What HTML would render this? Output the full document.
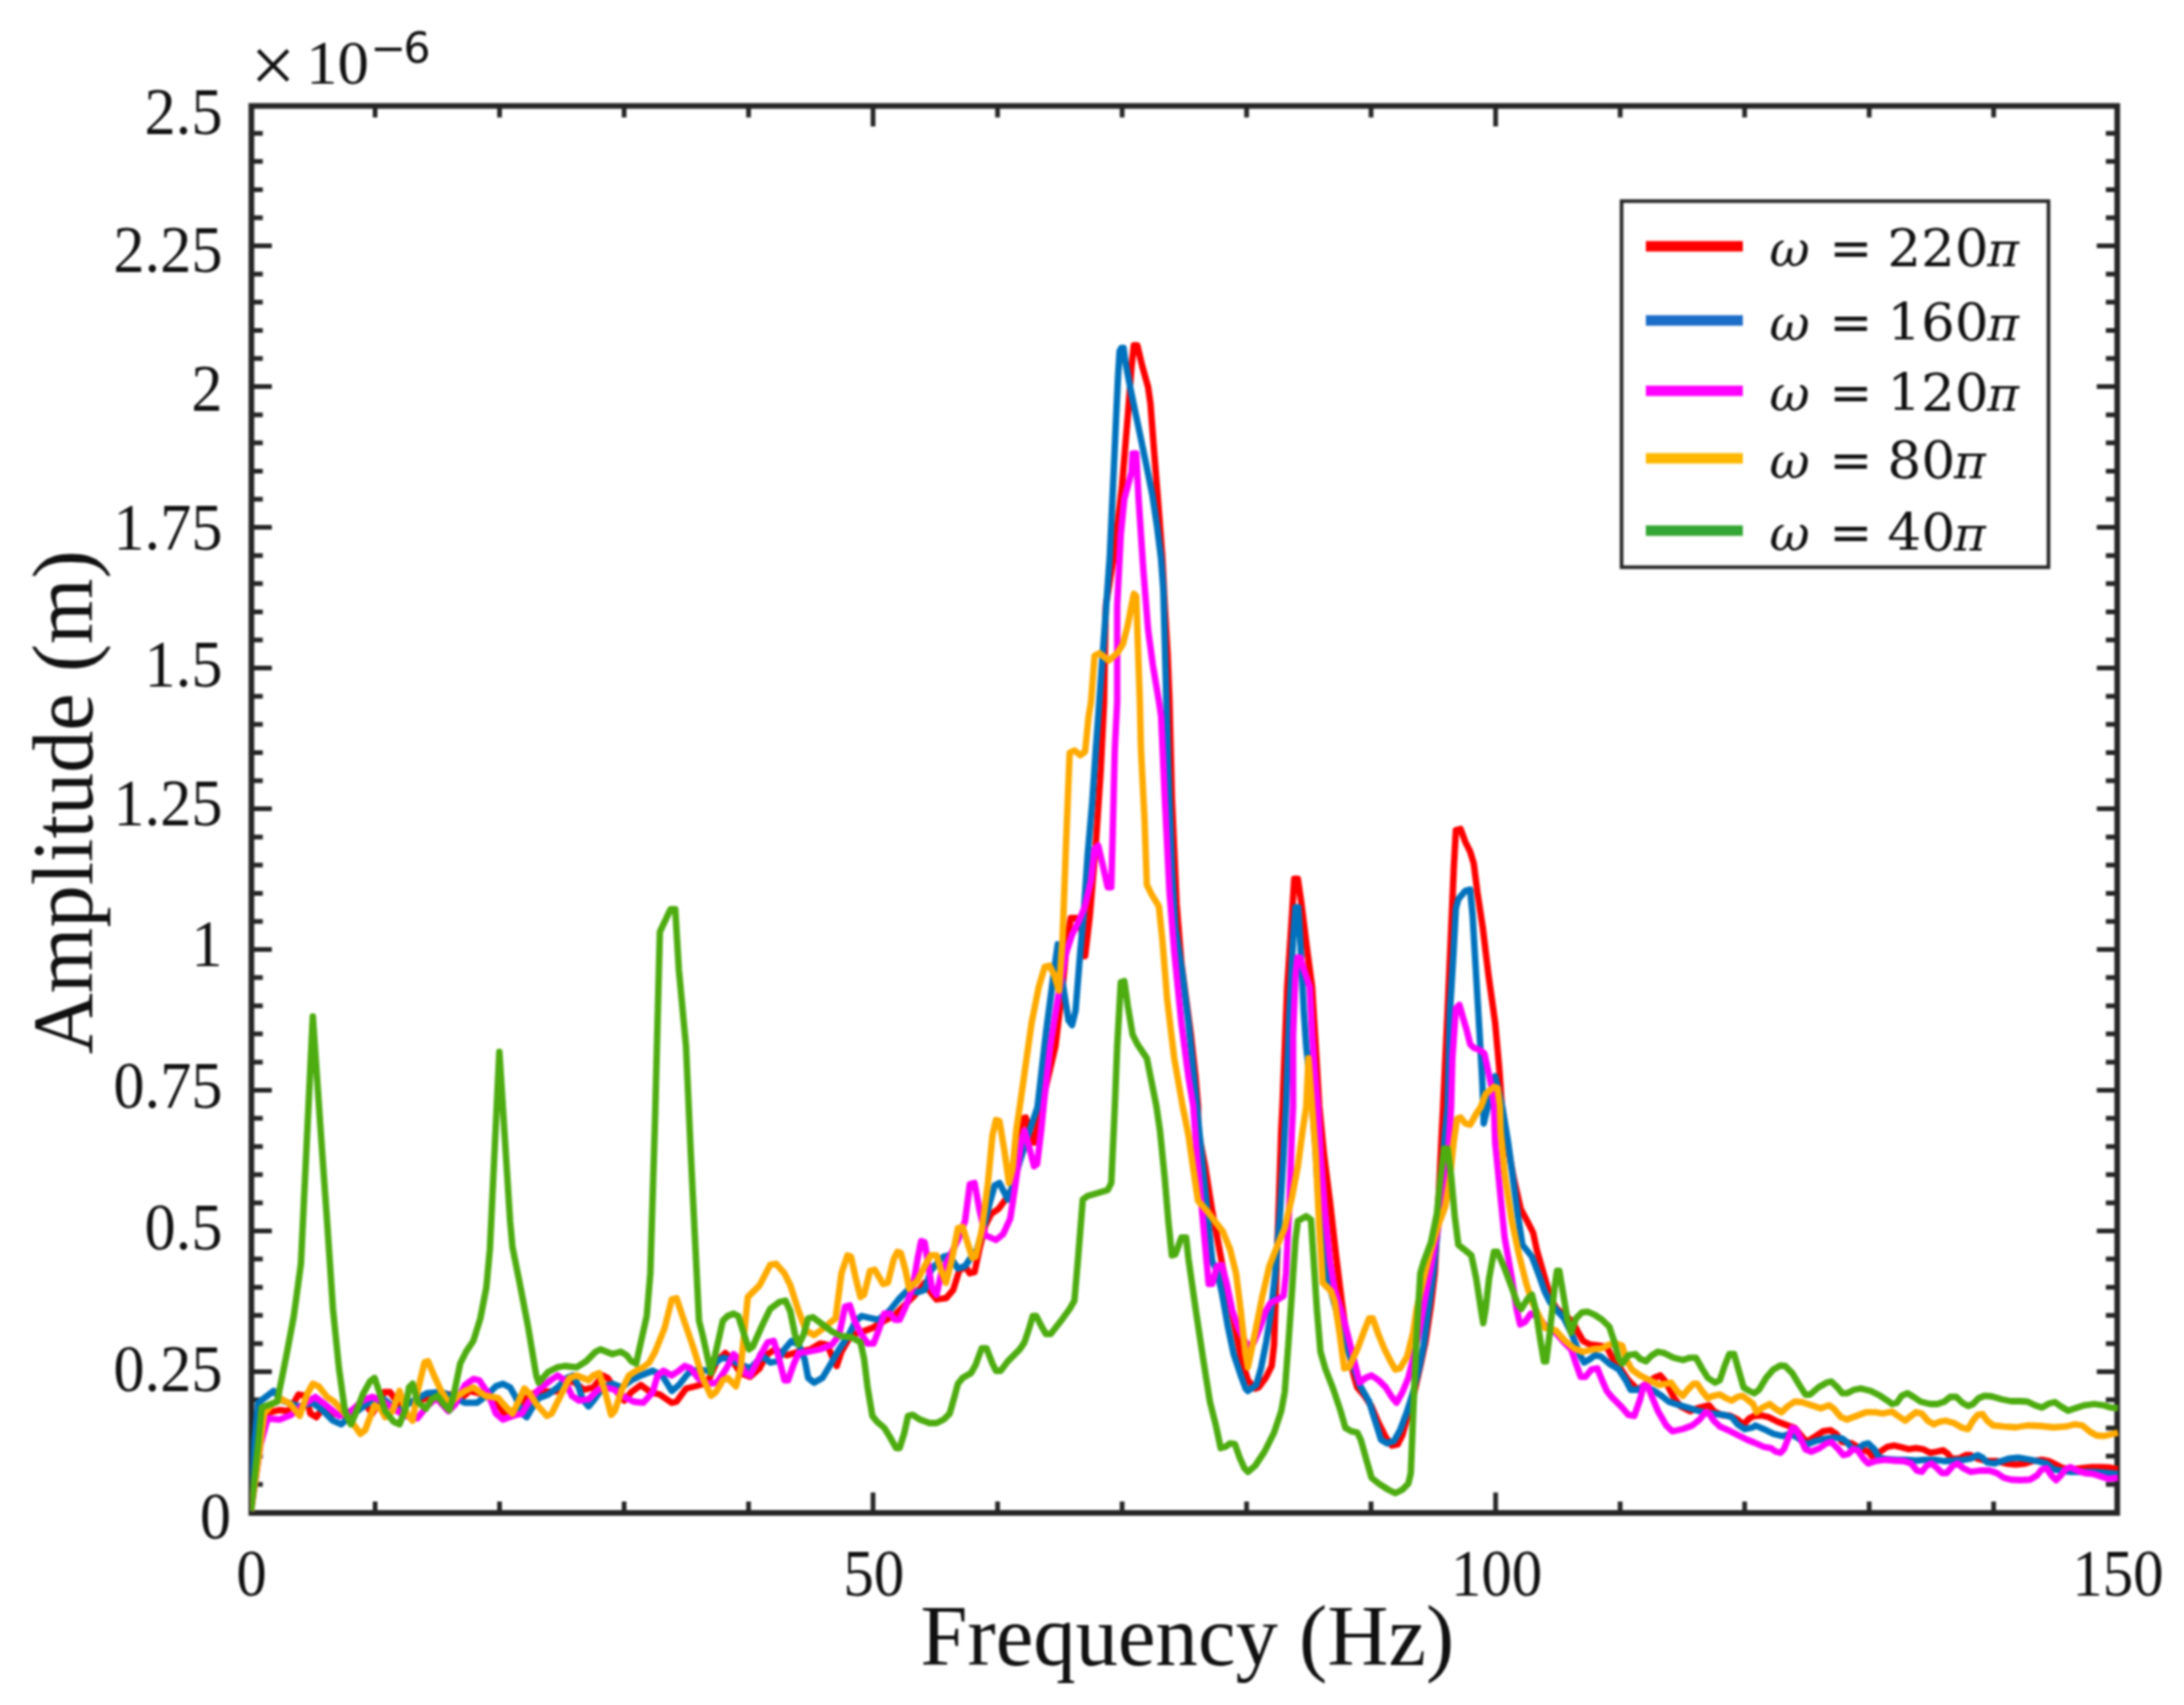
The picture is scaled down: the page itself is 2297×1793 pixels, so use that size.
<!DOCTYPE html>
<html lang="en"><head><meta charset="utf-8"><title>Amplitude vs Frequency</title>
<style>html,body{margin:0;padding:0;background:#fff}svg{display:block}</style></head>
<body>
<svg width="2297" height="1793" viewBox="0 0 2297 1793">
<defs><clipPath id="clip"><rect x="263.4" y="111.4" width="1966.4" height="1482.6"/></clipPath></defs>
<filter id="soft" x="0" y="0" width="100%" height="100%" filterUnits="userSpaceOnUse" color-interpolation-filters="sRGB"><feGaussianBlur stdDeviation="1"/></filter>
<rect width="2297" height="1793" fill="#fff"/>
<g filter="url(#soft)">
<rect width="2297" height="1793" fill="#fff"/>
<g stroke="#262626" stroke-width="6" fill="none" stroke-linecap="butt">
<rect x="264.4" y="111.4" width="1962.4" height="1479.6"/>
<path stroke-width="5" d="M264.4 1560.9h12M2226.8 1560.9h-12M264.4 1531.3h12M2226.8 1531.3h-12M264.4 1501.7h12M2226.8 1501.7h-12M264.4 1472.1h12M2226.8 1472.1h-12M264.4 1442.5h21.5M2226.8 1442.5h-21.5M264.4 1412.9h12M2226.8 1412.9h-12M264.4 1383.3h12M2226.8 1383.3h-12M264.4 1353.7h12M2226.8 1353.7h-12M264.4 1324.1h12M2226.8 1324.1h-12M264.4 1294.5h21.5M2226.8 1294.5h-21.5M264.4 1264.9h12M2226.8 1264.9h-12M264.4 1235.3h12M2226.8 1235.3h-12M264.4 1205.7h12M2226.8 1205.7h-12M264.4 1176.1h12M2226.8 1176.1h-12M264.4 1146.5h21.5M2226.8 1146.5h-21.5M264.4 1116.9h12M2226.8 1116.9h-12M264.4 1087.3h12M2226.8 1087.3h-12M264.4 1057.7h12M2226.8 1057.7h-12M264.4 1028.1h12M2226.8 1028.1h-12M264.4 998.5h21.5M2226.8 998.5h-21.5M264.4 969.0h12M2226.8 969.0h-12M264.4 939.4h12M2226.8 939.4h-12M264.4 909.8h12M2226.8 909.8h-12M264.4 880.2h12M2226.8 880.2h-12M264.4 850.6h21.5M2226.8 850.6h-21.5M264.4 821.0h12M2226.8 821.0h-12M264.4 791.4h12M2226.8 791.4h-12M264.4 761.8h12M2226.8 761.8h-12M264.4 732.2h12M2226.8 732.2h-12M264.4 702.6h21.5M2226.8 702.6h-21.5M264.4 673.0h12M2226.8 673.0h-12M264.4 643.4h12M2226.8 643.4h-12M264.4 613.8h12M2226.8 613.8h-12M264.4 584.2h12M2226.8 584.2h-12M264.4 554.6h21.5M2226.8 554.6h-21.5M264.4 525.0h12M2226.8 525.0h-12M264.4 495.4h12M2226.8 495.4h-12M264.4 465.8h12M2226.8 465.8h-12M264.4 436.2h12M2226.8 436.2h-12M264.4 406.6h21.5M2226.8 406.6h-21.5M264.4 377.0h12M2226.8 377.0h-12M264.4 347.4h12M2226.8 347.4h-12M264.4 317.8h12M2226.8 317.8h-12M264.4 288.2h12M2226.8 288.2h-12M264.4 258.6h21.5M2226.8 258.6h-21.5M264.4 229.0h12M2226.8 229.0h-12M264.4 199.4h12M2226.8 199.4h-12M264.4 169.8h12M2226.8 169.8h-12M264.4 140.2h12M2226.8 140.2h-12M394.5 1591.0v-12M394.5 111.4v12M525.4 1591.0v-12M525.4 111.4v12M656.4 1591.0v-12M656.4 111.4v12M787.3 1591.0v-12M787.3 111.4v12M918.2 1591.0v-21.5M918.2 111.4v21.5M1049.2 1591.0v-12M1049.2 111.4v12M1180.2 1591.0v-12M1180.2 111.4v12M1311.1 1591.0v-12M1311.1 111.4v12M1442.0 1591.0v-12M1442.0 111.4v12M1573.0 1591.0v-21.5M1573.0 111.4v21.5M1704.0 1591.0v-12M1704.0 111.4v12M1834.9 1591.0v-12M1834.9 111.4v12M1965.9 1591.0v-12M1965.9 111.4v12M2096.8 1591.0v-12M2096.8 111.4v12"/>
</g>
<g fill="none" stroke-width="6.8" stroke-linejoin="round" stroke-linecap="butt" clip-path="url(#clip)">
<path d="M264.0 1589.0 L270.2 1519.0 L279.0 1486.5 L294.0 1482.8 L304.0 1484.0 L314.0 1466.5 L321.5 1467.8 L326.5 1486.5 L332.8 1490.2 L339.0 1481.5 L349.0 1486.5 L364.0 1489.0 L374.0 1484.0 L384.0 1476.5 L391.5 1486.5 L404.0 1464.0 L410.2 1464.0 L419.0 1476.5 L439.0 1474.0 L454.0 1467.8 L464.0 1465.2 L474.0 1466.5 L484.0 1471.5 L494.0 1462.8 L509.0 1466.5 L524.0 1476.5 L531.5 1489.0 L539.0 1489.0 L551.5 1471.5 L564.0 1464.0 L589.0 1462.8 L601.5 1451.5 L614.0 1461.5 L624.0 1459.0 L634.0 1446.5 L639.0 1449.0 L649.0 1464.0 L656.5 1472.8 L664.0 1464.0 L674.0 1456.5 L684.0 1464.0 L694.0 1466.5 L706.5 1475.2 L711.5 1474.0 L721.5 1460.2 L731.5 1457.8 L744.0 1454.0 L754.0 1431.5 L762.8 1422.8 L769.0 1429.0 L779.0 1444.0 L789.0 1447.8 L799.0 1439.0 L800.0 1436.5 L807.5 1424.0 L815.0 1419.0 L827.5 1425.2 L840.0 1421.5 L852.5 1419.0 L862.5 1412.8 L870.0 1414.0 L876.2 1429.0 L880.0 1436.5 L885.0 1421.5 L895.0 1404.0 L907.5 1400.2 L917.5 1396.5 L930.0 1389.0 L940.0 1384.0 L950.0 1374.0 L962.5 1361.5 L972.5 1349.0 L978.8 1359.0 L985.0 1366.5 L995.0 1365.2 L1002.5 1356.5 L1008.8 1336.5 L1015.0 1331.5 L1020.0 1339.0 L1025.0 1337.8 L1030.0 1314.0 L1036.2 1289.0 L1042.5 1276.5 L1050.0 1271.5 L1057.5 1261.5 L1065.0 1249.0 L1070.0 1214.0 L1075.0 1176.5 L1078.8 1175.2 L1083.8 1194.0 L1087.5 1201.5 L1095.0 1164.0 L1110.0 1100.5 L1117.5 1038.0 L1122.5 988.0 L1126.2 965.5 L1132.5 965.5 L1137.5 978.0 L1141.2 1005.5 L1146.2 963.0 L1152.5 888.0 L1157.5 813.0 L1161.2 738.0 L1162.0 687.0 L1163.0 637.0 L1171.2 587.0 L1180.0 512.0 L1186.2 437.0 L1190.0 387.0 L1192.5 363.2 L1196.2 363.2 L1201.2 384.5 L1207.5 407.0 L1210.0 424.5 L1213.8 474.5 L1218.8 537.0 L1222.5 587.0 L1225.0 637.0 L1228.0 687.0 L1230.0 737.0 L1232.5 838.0 L1237.5 950.5 L1242.5 1013.0 L1247.5 1050.5 L1252.5 1088.0 L1257.5 1133.0 L1260.0 1163.0 L1260.0 1189.0 L1267.5 1226.5 L1275.0 1274.0 L1282.5 1314.0 L1290.0 1354.0 L1297.5 1389.0 L1305.0 1426.5 L1312.5 1451.5 L1320.0 1460.2 L1323.8 1459.0 L1331.2 1449.0 L1337.5 1436.5 L1340.0 1414.0 L1342.5 1339.0 L1345.0 1264.0 L1347.5 1189.0 L1348.8 1164.0 L1353.8 1038.0 L1358.8 963.0 L1361.2 924.2 L1365.0 924.2 L1368.8 950.5 L1375.0 1000.5 L1380.0 1038.0 L1383.8 1100.5 L1387.5 1163.0 L1392.5 1214.0 L1398.8 1264.0 L1405.0 1319.0 L1411.2 1369.0 L1417.5 1414.0 L1423.8 1446.5 L1427.5 1459.0 L1435.0 1467.8 L1442.5 1479.0 L1450.0 1496.5 L1457.5 1511.5 L1463.8 1520.2 L1470.0 1519.0 L1475.0 1509.0 L1481.2 1486.5 L1487.5 1464.0 L1493.8 1436.5 L1499.2 1411.5 L1504.8 1374.0 L1509.0 1339.0 L1512.8 1264.0 L1516.5 1189.0 L1517.8 1164.0 L1522.5 1063.0 L1525.8 988.0 L1529.0 913.0 L1531.2 873.0 L1536.2 871.8 L1541.2 885.5 L1546.2 895.5 L1550.0 908.0 L1553.8 938.0 L1559.5 975.5 L1565.5 1025.5 L1572.5 1075.5 L1577.0 1125.5 L1579.5 1163.0 L1583.8 1194.0 L1592.0 1239.0 L1599.5 1271.5 L1606.2 1284.0 L1612.5 1296.5 L1616.2 1314.0 L1621.2 1331.5 L1626.2 1349.0 L1631.2 1366.5 L1637.5 1376.5 L1650.0 1386.5 L1656.2 1394.0 L1660.0 1401.5 L1665.0 1410.2 L1672.5 1414.0 L1682.5 1415.2 L1690.0 1416.5 L1696.2 1429.0 L1702.5 1436.5 L1712.5 1451.5 L1722.5 1461.5 L1731.2 1455.2 L1740.0 1449.0 L1746.2 1446.5 L1752.5 1454.0 L1760.0 1469.0 L1767.5 1479.0 L1777.5 1484.0 L1787.5 1480.2 L1797.5 1477.8 L1802.5 1484.0 L1810.0 1487.8 L1820.0 1489.0 L1827.5 1492.8 L1833.8 1497.8 L1840.0 1491.5 L1845.0 1489.0 L1852.5 1488.5 L1860.0 1490.2 L1870.0 1495.2 L1880.0 1499.0 L1887.5 1501.5 L1900.0 1516.5 L1910.0 1510.2 L1917.5 1505.2 L1925.0 1504.0 L1931.2 1507.8 L1937.5 1516.5 L1947.5 1517.8 L1957.5 1524.0 L1965.0 1526.5 L1970.0 1532.8 L1977.5 1526.5 L1985.0 1521.5 L1992.5 1520.2 L2000.0 1522.0 L2007.5 1524.0 L2015.0 1522.8 L2022.5 1524.0 L2030.0 1527.8 L2037.5 1526.5 L2043.8 1525.2 L2048.8 1529.0 L2052.5 1534.0 L2060.0 1534.0 L2067.5 1530.2 L2072.5 1530.2 L2080.0 1534.0 L2090.0 1536.5 L2100.0 1536.5 L2110.0 1539.0 L2120.0 1540.2 L2130.0 1539.0 L2137.5 1536.5 L2147.5 1535.2 L2155.0 1536.5 L2162.5 1540.2 L2170.0 1544.0 L2180.0 1545.2 L2190.0 1544.0 L2200.0 1542.8 L2210.0 1542.8 L2220.0 1543.5 L2227.5 1545.2" stroke="#ff0000"/>
<path d="M264.0 1589.0 L267.8 1514.0 L271.5 1475.2 L287.8 1462.8 L296.5 1472.8 L314.0 1479.0 L329.0 1475.2 L339.0 1482.8 L350.2 1494.0 L359.0 1497.8 L369.0 1489.0 L389.0 1474.0 L404.0 1471.5 L419.0 1484.0 L429.0 1476.5 L449.0 1465.2 L464.0 1464.0 L476.5 1469.0 L489.0 1475.2 L501.5 1475.2 L511.5 1467.8 L521.5 1457.8 L529.0 1455.2 L536.5 1459.0 L542.8 1470.2 L549.0 1486.5 L554.0 1490.2 L559.0 1481.5 L566.5 1470.2 L576.5 1466.5 L586.5 1459.0 L596.5 1449.0 L602.8 1446.5 L607.8 1456.5 L612.8 1471.5 L619.0 1479.0 L625.2 1471.5 L634.0 1459.0 L644.0 1455.2 L654.0 1459.0 L664.0 1451.5 L674.0 1446.5 L686.5 1441.5 L696.5 1446.5 L706.5 1462.8 L714.0 1456.5 L724.0 1444.0 L734.0 1440.2 L744.0 1441.5 L754.0 1431.5 L760.2 1427.8 L766.5 1429.0 L776.5 1434.0 L789.0 1439.0 L799.0 1429.0 L800.0 1424.0 L810.0 1432.8 L817.5 1431.5 L825.0 1419.0 L832.5 1410.2 L840.0 1414.0 L846.2 1429.0 L850.0 1449.0 L856.2 1454.0 L865.0 1449.0 L872.5 1436.5 L882.5 1419.0 L892.5 1404.0 L900.0 1389.0 L906.2 1384.0 L915.0 1386.0 L923.8 1387.8 L935.0 1379.0 L945.0 1366.5 L955.0 1356.5 L965.0 1359.0 L972.5 1356.5 L978.8 1336.5 L985.0 1329.0 L992.5 1321.5 L997.5 1320.2 L1002.5 1326.5 L1007.5 1334.0 L1015.0 1331.5 L1020.0 1324.0 L1027.5 1314.0 L1035.0 1289.0 L1041.2 1264.0 L1046.2 1246.5 L1051.2 1244.0 L1056.2 1254.0 L1060.0 1261.5 L1065.0 1246.5 L1072.5 1221.5 L1081.2 1194.0 L1091.2 1164.0 L1100.5 1083.0 L1108.0 1025.5 L1112.5 993.0 L1117.5 1033.0 L1123.8 1073.0 L1127.5 1078.0 L1131.2 1063.0 L1136.2 1000.5 L1140.0 958.0 L1143.8 900.5 L1148.8 843.0 L1152.5 788.0 L1156.2 738.0 L1167.1 586.3 L1169.4 537.1 L1171.7 487.8 L1173.9 438.5 L1175.8 397.5 L1177.5 369.6 L1179.3 365.9 L1181.7 365.9 L1183.7 381.1 L1189.0 409.0 L1197.2 448.4 L1205.4 487.8 L1212.0 520.6 L1216.9 553.5 L1221.0 586.3 L1223.5 620.0 L1228.8 813.0 L1232.5 913.0 L1236.2 975.5 L1243.8 1025.5 L1250.0 1075.5 L1255.0 1125.5 L1258.8 1163.0 L1262.5 1201.5 L1267.5 1251.5 L1271.2 1289.0 L1275.0 1326.5 L1280.0 1336.5 L1285.0 1359.0 L1291.2 1394.0 L1297.5 1424.0 L1305.0 1446.5 L1310.0 1460.2 L1312.5 1462.8 L1321.2 1456.5 L1326.2 1439.0 L1331.2 1414.0 L1336.2 1384.0 L1341.2 1339.0 L1346.2 1276.5 L1350.0 1214.0 L1352.5 1164.0 L1356.2 1063.0 L1360.0 988.0 L1362.5 954.2 L1365.5 954.2 L1368.8 1013.0 L1371.2 1063.0 L1373.8 1100.5 L1378.0 1138.0 L1380.2 1163.0 L1383.2 1201.5 L1386.8 1264.0 L1392.5 1319.0 L1398.8 1354.0 L1405.0 1376.5 L1412.5 1401.5 L1420.0 1426.5 L1425.0 1441.5 L1430.0 1456.5 L1440.0 1474.0 L1446.2 1494.0 L1452.5 1514.0 L1458.8 1517.8 L1466.2 1515.2 L1472.5 1504.0 L1480.0 1484.0 L1486.2 1464.0 L1492.5 1439.0 L1497.5 1414.0 L1502.5 1376.5 L1507.5 1339.0 L1512.5 1289.0 L1516.2 1239.0 L1520.0 1189.0 L1522.5 1164.0 L1525.0 1063.0 L1528.8 1000.5 L1531.2 955.5 L1533.8 945.5 L1541.2 936.8 L1546.2 935.5 L1548.8 963.0 L1552.5 1025.5 L1556.2 1088.0 L1559.0 1138.0 L1560.0 1163.0 L1560.5 1181.5 L1572.5 1131.8 L1580.0 1164.0 L1586.2 1201.5 L1591.2 1239.0 L1596.2 1276.5 L1601.2 1309.0 L1611.2 1321.5 L1618.8 1341.5 L1625.0 1359.0 L1630.0 1369.0 L1636.2 1376.5 L1645.0 1386.5 L1652.5 1401.5 L1657.5 1414.0 L1662.5 1426.5 L1666.2 1432.8 L1672.5 1429.0 L1677.5 1425.2 L1683.8 1426.5 L1692.5 1434.0 L1702.5 1440.2 L1710.0 1451.5 L1715.0 1461.5 L1722.5 1461.5 L1730.0 1457.8 L1740.0 1462.8 L1747.5 1467.8 L1755.0 1474.0 L1762.5 1476.5 L1775.0 1480.2 L1787.5 1484.0 L1800.0 1486.5 L1812.5 1487.8 L1821.2 1490.2 L1827.5 1497.8 L1835.0 1502.8 L1843.8 1501.0 L1846.2 1499.0 L1855.0 1502.8 L1865.0 1507.8 L1875.0 1510.2 L1882.5 1507.8 L1890.0 1511.5 L1900.0 1519.0 L1910.0 1515.2 L1920.0 1512.8 L1930.0 1511.5 L1937.5 1512.8 L1942.5 1516.5 L1947.5 1522.8 L1953.8 1524.0 L1960.0 1519.0 L1965.0 1517.8 L1971.2 1524.0 L1976.2 1532.8 L1985.0 1534.5 L1995.0 1535.2 L2005.0 1535.2 L2015.0 1536.0 L2025.0 1535.2 L2035.0 1535.2 L2045.0 1536.5 L2055.0 1536.0 L2065.0 1535.2 L2072.5 1534.0 L2080.0 1530.2 L2085.0 1532.8 L2090.0 1537.8 L2097.5 1539.0 L2105.0 1536.5 L2112.5 1534.0 L2122.5 1532.8 L2132.5 1534.5 L2142.5 1536.5 L2152.5 1539.0 L2160.0 1545.2 L2167.5 1546.5 L2177.5 1547.8 L2190.0 1547.8 L2202.5 1547.8 L2215.0 1549.0 L2227.5 1550.2" stroke="#0072bd"/>
<path d="M264.0 1589.0 L274.0 1519.0 L281.5 1491.5 L294.0 1492.8 L306.5 1487.8 L316.5 1479.0 L331.5 1469.0 L341.5 1476.5 L356.5 1489.0 L369.0 1484.0 L381.5 1472.8 L391.5 1469.0 L401.5 1472.8 L414.0 1481.5 L426.5 1489.0 L439.0 1491.5 L449.0 1479.0 L459.0 1470.2 L471.5 1484.0 L479.0 1476.5 L489.0 1456.5 L497.8 1450.2 L504.0 1451.5 L514.0 1466.5 L521.5 1486.5 L529.0 1492.8 L539.0 1489.0 L549.0 1486.5 L556.5 1474.0 L566.5 1461.5 L579.0 1451.5 L586.5 1446.5 L594.0 1451.5 L601.5 1467.8 L609.0 1472.8 L619.0 1471.5 L629.0 1461.5 L636.5 1459.0 L646.5 1461.5 L656.5 1469.0 L666.5 1474.0 L676.5 1475.2 L686.5 1464.0 L691.5 1446.5 L697.8 1441.5 L706.5 1446.5 L714.0 1441.5 L720.2 1436.5 L726.5 1439.0 L734.0 1449.0 L744.0 1455.2 L754.0 1454.0 L764.0 1439.0 L771.5 1424.0 L776.5 1429.0 L784.0 1444.0 L789.0 1446.5 L799.0 1426.5 L807.5 1411.5 L813.8 1410.2 L818.8 1426.5 L825.0 1451.5 L828.8 1451.5 L835.0 1434.0 L840.0 1422.8 L850.0 1421.5 L862.5 1419.0 L875.0 1414.0 L882.5 1404.0 L888.8 1374.0 L893.8 1372.8 L898.8 1389.0 L905.0 1401.5 L912.5 1412.8 L918.8 1412.8 L925.0 1396.5 L930.0 1381.5 L936.2 1381.5 L941.2 1387.8 L946.2 1387.8 L952.5 1374.0 L960.0 1354.0 L965.0 1324.0 L968.8 1305.2 L972.5 1306.5 L976.2 1329.0 L980.0 1354.0 L985.0 1361.5 L990.0 1339.0 L997.5 1324.0 L1007.5 1304.0 L1015.0 1284.0 L1020.0 1245.2 L1025.0 1244.0 L1030.0 1271.5 L1036.2 1299.0 L1047.5 1304.0 L1055.0 1297.8 L1062.5 1281.5 L1067.5 1249.0 L1073.8 1201.5 L1077.5 1189.0 L1082.5 1206.5 L1087.5 1226.5 L1090.8 1224.0 L1095.0 1189.0 L1097.5 1164.0 L1104.5 1100.5 L1112.5 1050.5 L1121.0 1003.0 L1127.5 983.0 L1135.0 968.0 L1141.2 953.0 L1147.5 925.5 L1151.2 893.0 L1155.0 889.2 L1160.0 910.5 L1165.0 933.0 L1168.8 933.0 L1170.0 888.0 L1172.5 788.0 L1175.0 738.0 L1175.0 637.0 L1178.8 562.0 L1182.5 524.5 L1190.0 497.0 L1191.2 477.0 L1195.0 477.0 L1197.5 524.5 L1202.5 599.5 L1207.5 662.0 L1212.5 699.5 L1218.8 737.0 L1221.2 753.0 L1225.0 838.0 L1230.0 938.0 L1235.0 1000.5 L1242.5 1075.5 L1250.0 1133.0 L1255.0 1163.0 L1258.8 1214.0 L1265.0 1281.5 L1268.8 1324.0 L1271.2 1350.2 L1275.0 1350.2 L1280.0 1331.5 L1285.0 1330.2 L1290.0 1349.0 L1296.2 1379.0 L1302.5 1396.5 L1311.2 1414.0 L1312.5 1415.2 L1318.8 1411.5 L1325.0 1396.5 L1331.2 1379.0 L1336.2 1370.2 L1343.8 1366.5 L1350.0 1362.8 L1352.5 1339.0 L1356.2 1264.0 L1358.8 1189.0 L1360.0 1164.0 L1360.0 1088.0 L1362.5 1025.5 L1364.5 1006.8 L1367.5 1006.8 L1372.5 1023.0 L1377.5 1038.0 L1380.0 1088.0 L1383.8 1138.0 L1386.2 1163.0 L1388.8 1214.0 L1393.8 1276.5 L1398.8 1326.5 L1403.8 1356.5 L1410.0 1376.5 L1415.0 1394.0 L1420.0 1414.0 L1425.0 1434.0 L1430.0 1454.0 L1436.2 1449.0 L1442.5 1446.5 L1450.0 1451.5 L1457.5 1459.0 L1463.8 1469.0 L1468.8 1475.2 L1475.0 1464.0 L1481.2 1449.0 L1486.2 1429.0 L1492.5 1401.5 L1500.0 1359.0 L1507.5 1319.0 L1515.0 1276.5 L1520.0 1239.0 L1523.8 1201.5 L1526.2 1164.0 L1527.5 1113.0 L1531.2 1060.5 L1535.0 1056.8 L1538.8 1070.5 L1542.5 1083.0 L1546.2 1098.0 L1550.0 1101.8 L1556.2 1104.2 L1561.2 1108.0 L1565.0 1125.5 L1568.8 1143.0 L1571.2 1163.0 L1572.5 1201.5 L1577.5 1251.5 L1582.5 1301.5 L1590.0 1344.0 L1595.0 1376.5 L1598.8 1392.8 L1603.8 1390.2 L1610.0 1381.5 L1617.5 1384.0 L1625.0 1394.0 L1636.2 1401.5 L1645.0 1411.5 L1652.5 1419.0 L1657.5 1434.0 L1662.5 1447.8 L1667.5 1447.8 L1673.8 1440.2 L1680.0 1439.0 L1685.0 1451.5 L1690.0 1462.8 L1695.0 1469.0 L1705.0 1479.0 L1712.5 1487.8 L1718.8 1489.0 L1725.0 1471.5 L1728.8 1456.5 L1732.5 1456.5 L1737.5 1469.0 L1743.8 1484.0 L1752.5 1499.0 L1758.8 1505.2 L1770.0 1502.8 L1780.0 1499.0 L1787.5 1492.8 L1793.8 1485.2 L1797.5 1486.5 L1802.5 1494.0 L1808.8 1500.2 L1820.0 1505.2 L1830.0 1510.2 L1837.5 1514.0 L1845.0 1517.0 L1855.0 1521.5 L1862.5 1522.8 L1867.5 1526.5 L1872.5 1527.8 L1876.2 1524.0 L1881.2 1511.5 L1885.0 1501.5 L1888.8 1502.8 L1893.8 1512.8 L1898.8 1524.0 L1905.0 1526.5 L1913.8 1522.8 L1921.2 1517.8 L1926.2 1516.5 L1932.5 1522.8 L1938.8 1530.2 L1943.8 1529.0 L1948.8 1524.0 L1953.8 1525.2 L1960.0 1534.0 L1965.0 1539.0 L1972.5 1536.5 L1982.5 1535.2 L1992.5 1536.0 L2002.5 1536.5 L2010.0 1539.0 L2016.2 1546.5 L2021.2 1547.8 L2026.2 1541.5 L2031.2 1539.0 L2036.2 1542.8 L2042.5 1549.0 L2047.5 1549.0 L2053.8 1541.5 L2058.8 1539.0 L2065.0 1544.0 L2072.5 1547.8 L2082.5 1546.5 L2092.5 1546.5 L2100.0 1549.0 L2107.5 1554.0 L2115.0 1556.0 L2125.0 1556.5 L2135.0 1556.0 L2142.5 1551.5 L2147.5 1545.2 L2152.5 1544.0 L2157.5 1551.5 L2162.5 1556.5 L2167.5 1551.5 L2172.5 1545.2 L2177.5 1542.8 L2185.0 1546.5 L2192.5 1549.0 L2202.5 1550.2 L2210.0 1552.8 L2217.5 1555.2 L2227.5 1554.0" stroke="#ff00ff"/>
<path d="M264.0 1589.0 L272.8 1526.5 L277.8 1486.5 L286.5 1476.5 L296.5 1471.5 L305.2 1476.5 L315.2 1489.0 L322.8 1466.5 L329.0 1455.2 L335.2 1457.8 L344.0 1469.0 L351.5 1474.0 L362.8 1486.5 L369.0 1494.0 L379.0 1507.8 L384.0 1504.0 L394.0 1477.8 L400.2 1481.5 L405.2 1490.2 L412.8 1484.0 L420.2 1462.8 L427.8 1486.5 L434.0 1494.0 L439.0 1464.0 L446.5 1432.8 L450.2 1431.5 L456.5 1446.5 L464.0 1462.8 L472.8 1476.5 L481.5 1467.8 L489.0 1462.8 L497.8 1459.0 L510.2 1467.8 L524.0 1470.2 L531.5 1479.0 L539.0 1486.5 L545.2 1474.0 L551.5 1460.2 L557.8 1466.5 L564.0 1476.5 L575.2 1489.0 L580.2 1486.5 L591.5 1464.0 L599.0 1449.0 L606.5 1446.5 L619.0 1451.5 L624.0 1446.5 L630.2 1444.0 L636.5 1464.0 L642.8 1487.8 L646.5 1484.0 L654.0 1461.5 L661.5 1446.5 L669.0 1441.5 L676.5 1437.8 L682.8 1432.8 L689.0 1421.5 L699.0 1396.5 L706.5 1366.5 L711.5 1365.2 L717.8 1384.0 L729.0 1416.5 L739.0 1449.0 L747.8 1467.8 L752.8 1464.0 L760.2 1451.5 L765.2 1449.0 L774.0 1457.8 L779.0 1439.0 L782.8 1401.5 L786.5 1364.0 L799.0 1351.5 L810.0 1330.2 L816.2 1329.0 L825.0 1339.0 L831.2 1351.5 L840.0 1379.0 L847.5 1399.0 L856.2 1404.0 L865.0 1397.8 L873.8 1390.2 L878.8 1386.5 L885.0 1339.0 L891.2 1320.2 L895.0 1321.5 L900.0 1344.0 L905.0 1364.0 L908.8 1361.5 L915.0 1336.5 L920.0 1335.2 L928.8 1350.2 L933.8 1349.0 L940.0 1324.0 L943.8 1316.5 L947.5 1317.8 L952.5 1336.5 L956.2 1355.2 L965.0 1346.5 L972.5 1331.5 L978.8 1320.2 L985.0 1320.2 L990.0 1336.5 L995.0 1349.0 L1001.2 1324.0 L1007.5 1291.5 L1012.5 1290.2 L1017.5 1306.5 L1022.5 1322.8 L1026.2 1321.5 L1032.5 1294.0 L1038.8 1246.5 L1043.8 1194.0 L1047.5 1177.8 L1051.2 1179.0 L1056.2 1209.0 L1061.2 1244.0 L1065.0 1229.0 L1068.8 1189.0 L1072.5 1164.0 L1085.0 1075.5 L1092.5 1038.0 L1098.8 1016.8 L1103.8 1015.5 L1108.8 1025.5 L1113.8 1041.8 L1117.5 988.0 L1121.2 888.0 L1125.0 791.8 L1130.0 789.2 L1136.2 794.2 L1141.2 790.5 L1145.0 753.0 L1147.5 738.0 L1151.2 689.5 L1156.2 687.0 L1166.2 694.5 L1175.0 687.0 L1181.2 677.0 L1186.2 657.0 L1190.0 637.0 L1192.5 624.5 L1195.0 627.0 L1196.2 662.0 L1198.8 737.0 L1200.0 788.0 L1203.8 863.0 L1206.2 930.5 L1211.2 940.5 L1218.8 953.0 L1222.5 988.0 L1227.5 1050.5 L1235.0 1113.0 L1243.8 1163.0 L1250.0 1194.0 L1255.0 1229.0 L1260.0 1262.8 L1270.0 1274.0 L1277.5 1284.0 L1286.2 1295.2 L1293.8 1314.0 L1300.0 1339.0 L1305.0 1379.0 L1310.0 1424.0 L1312.5 1437.8 L1320.0 1401.5 L1327.5 1364.0 L1335.0 1331.5 L1343.8 1309.0 L1351.2 1291.5 L1358.8 1259.0 L1365.0 1226.5 L1370.0 1189.0 L1373.8 1164.0 L1376.2 1113.0 L1380.0 1164.0 L1383.8 1214.0 L1387.5 1289.0 L1391.2 1349.0 L1400.0 1357.8 L1403.8 1369.0 L1408.8 1401.5 L1413.8 1439.0 L1418.8 1437.8 L1427.5 1419.0 L1435.0 1399.0 L1440.0 1386.5 L1443.8 1386.5 L1450.0 1404.0 L1456.2 1419.0 L1462.5 1431.5 L1467.5 1440.2 L1472.5 1439.0 L1480.0 1426.5 L1486.2 1401.5 L1490.0 1376.5 L1497.5 1344.0 L1505.0 1314.0 L1512.5 1289.0 L1520.0 1269.0 L1525.0 1239.0 L1528.8 1201.5 L1532.5 1176.5 L1536.2 1175.2 L1541.2 1181.5 L1546.2 1182.8 L1552.5 1171.5 L1557.5 1164.0 L1562.5 1150.5 L1571.2 1143.0 L1575.0 1144.2 L1577.5 1163.0 L1578.2 1189.0 L1582.5 1234.0 L1590.0 1284.0 L1597.5 1319.0 L1605.0 1349.0 L1611.2 1369.0 L1617.5 1381.5 L1625.0 1396.5 L1636.2 1399.0 L1645.0 1409.0 L1655.0 1417.8 L1665.0 1421.5 L1675.0 1419.0 L1685.0 1417.8 L1692.5 1414.0 L1700.0 1412.8 L1706.2 1415.2 L1710.0 1429.0 L1716.2 1440.2 L1725.0 1446.5 L1735.0 1451.5 L1745.0 1456.5 L1752.5 1455.2 L1757.5 1454.0 L1763.8 1462.8 L1770.0 1467.8 L1775.0 1461.5 L1781.2 1455.2 L1785.0 1455.2 L1790.0 1462.8 L1796.2 1470.2 L1802.5 1467.8 L1808.8 1466.5 L1815.0 1470.2 L1821.2 1472.8 L1827.5 1469.0 L1832.5 1467.8 L1837.5 1471.5 L1843.8 1476.5 L1847.5 1485.2 L1853.8 1480.2 L1861.2 1476.5 L1867.5 1481.5 L1873.8 1485.2 L1880.0 1479.0 L1887.5 1474.0 L1895.0 1474.5 L1905.0 1477.8 L1915.0 1481.0 L1923.8 1477.8 L1928.8 1481.5 L1936.2 1490.2 L1942.5 1492.8 L1952.5 1489.0 L1962.5 1485.2 L1972.5 1485.2 L1980.0 1486.5 L1990.0 1484.5 L1996.2 1489.0 L2003.8 1494.0 L2010.0 1489.0 L2015.0 1485.2 L2021.2 1486.5 L2027.5 1494.0 L2033.8 1497.8 L2040.0 1495.2 L2046.2 1494.0 L2055.0 1496.5 L2063.8 1501.5 L2070.0 1502.8 L2075.0 1494.0 L2080.0 1487.8 L2085.0 1487.0 L2090.0 1494.0 L2096.2 1499.0 L2107.5 1500.2 L2120.0 1501.0 L2132.5 1499.0 L2145.0 1499.5 L2160.0 1501.0 L2172.5 1500.2 L2182.5 1497.8 L2190.0 1499.0 L2197.5 1505.2 L2205.0 1509.5 L2212.5 1510.2 L2220.0 1508.5 L2227.5 1506.5" stroke="#ffaa00"/>
<path d="M264.0 1589.0 L271.5 1519.0 L275.2 1480.2 L291.5 1474.0 L301.5 1424.0 L309.0 1384.0 L316.5 1329.0 L329.0 1068.8 L339.0 1214.0 L344.0 1284.0 L350.2 1376.5 L356.5 1439.0 L362.8 1484.0 L369.0 1497.8 L374.0 1486.5 L381.5 1466.5 L389.0 1452.8 L394.0 1449.0 L399.0 1464.0 L405.2 1484.0 L414.0 1495.2 L420.2 1497.8 L426.5 1481.5 L430.2 1459.0 L434.0 1455.2 L439.0 1474.0 L447.8 1481.5 L454.0 1471.5 L460.2 1467.8 L466.5 1476.5 L472.8 1482.8 L477.8 1464.0 L484.0 1434.0 L490.2 1421.5 L497.8 1410.2 L505.2 1386.5 L511.5 1354.0 L515.2 1314.0 L525.2 1106.2 L536.5 1284.0 L539.0 1311.5 L546.5 1349.0 L555.2 1394.0 L564.0 1446.5 L566.5 1454.0 L576.5 1442.8 L586.5 1437.8 L594.0 1436.5 L606.5 1437.8 L616.5 1431.5 L626.5 1421.5 L631.5 1419.0 L644.0 1424.0 L652.8 1421.5 L659.0 1425.2 L664.0 1431.5 L669.0 1434.0 L674.0 1411.5 L680.2 1384.0 L684.0 1339.0 L689.0 1175.0 L694.0 980.0 L705.2 956.2 L710.2 956.2 L714.0 1020.0 L721.5 1100.0 L726.5 1212.5 L731.5 1314.0 L735.2 1389.0 L739.0 1404.0 L747.8 1444.0 L754.0 1416.5 L760.2 1389.0 L765.2 1384.0 L771.5 1381.5 L776.5 1384.0 L782.8 1404.0 L787.8 1419.0 L791.5 1416.5 L801.5 1394.0 L810.0 1376.5 L820.0 1369.0 L826.2 1367.8 L831.2 1379.0 L836.2 1404.0 L840.0 1414.0 L845.0 1404.0 L850.0 1386.5 L855.0 1385.2 L865.0 1392.8 L875.0 1400.2 L885.0 1405.2 L895.0 1406.0 L905.0 1411.5 L908.8 1429.0 L912.5 1459.0 L917.5 1489.0 L922.5 1495.2 L930.0 1501.5 L936.2 1511.5 L942.5 1522.8 L946.2 1522.8 L951.2 1506.5 L955.0 1489.0 L960.0 1487.8 L967.5 1492.8 L977.5 1496.5 L985.0 1496.5 L992.5 1492.8 L998.8 1486.5 L1003.8 1469.0 L1007.5 1455.2 L1012.5 1449.0 L1021.2 1444.0 L1026.2 1435.2 L1032.5 1417.8 L1037.5 1417.8 L1043.8 1434.0 L1047.5 1441.5 L1052.5 1441.5 L1060.0 1431.5 L1072.5 1419.0 L1077.5 1411.5 L1082.5 1396.5 L1086.2 1384.0 L1090.0 1384.0 L1095.0 1394.0 L1100.0 1402.8 L1105.0 1402.8 L1115.0 1390.2 L1125.0 1376.5 L1130.0 1367.8 L1133.8 1324.0 L1138.8 1261.5 L1143.8 1257.8 L1155.0 1254.5 L1165.0 1251.5 L1168.8 1244.0 L1172.5 1164.0 L1175.0 1100.5 L1178.8 1033.0 L1182.5 1031.8 L1186.2 1058.0 L1191.2 1088.0 L1196.2 1098.0 L1206.2 1113.0 L1211.2 1138.0 L1216.2 1163.0 L1220.0 1189.0 L1225.0 1239.0 L1228.8 1284.0 L1232.5 1320.2 L1236.2 1319.0 L1242.5 1301.5 L1247.5 1301.5 L1250.0 1324.0 L1257.5 1376.5 L1265.0 1426.5 L1272.5 1474.0 L1278.8 1499.0 L1283.8 1522.8 L1288.8 1521.5 L1293.8 1517.8 L1298.8 1518.5 L1303.8 1532.8 L1308.8 1544.0 L1312.5 1547.8 L1320.0 1541.5 L1330.0 1526.5 L1340.0 1506.5 L1347.5 1484.0 L1351.2 1464.0 L1355.0 1414.0 L1358.8 1359.0 L1362.5 1304.0 L1365.0 1284.0 L1373.8 1279.0 L1378.8 1282.8 L1381.2 1319.0 L1385.0 1376.5 L1388.8 1421.5 L1393.8 1439.0 L1402.5 1461.5 L1410.0 1484.0 L1415.0 1501.5 L1421.2 1505.2 L1427.5 1506.5 L1431.2 1514.0 L1437.5 1536.5 L1442.5 1554.0 L1450.0 1560.2 L1460.0 1566.5 L1467.5 1570.2 L1475.0 1566.5 L1481.2 1560.2 L1483.8 1549.0 L1486.2 1489.0 L1490.0 1401.5 L1493.8 1339.0 L1497.5 1326.5 L1505.0 1306.5 L1511.2 1276.5 L1515.0 1239.0 L1518.8 1207.8 L1522.5 1207.8 L1526.2 1236.5 L1530.0 1279.0 L1533.8 1309.0 L1540.0 1314.0 L1547.5 1320.2 L1552.5 1344.0 L1557.5 1376.5 L1560.0 1391.5 L1562.5 1376.5 L1566.2 1344.0 L1571.2 1316.5 L1575.0 1316.5 L1582.5 1334.0 L1590.0 1354.0 L1596.2 1371.5 L1600.0 1376.5 L1606.2 1366.5 L1611.2 1361.5 L1615.0 1376.5 L1620.0 1409.0 L1623.8 1431.5 L1626.2 1431.5 L1630.0 1401.5 L1635.0 1354.0 L1637.5 1336.5 L1640.0 1336.5 L1643.8 1359.0 L1648.8 1389.0 L1652.5 1401.5 L1657.5 1386.5 L1663.8 1380.2 L1670.0 1379.5 L1677.5 1382.8 L1685.0 1387.8 L1692.5 1395.2 L1697.5 1410.2 L1702.5 1429.0 L1706.2 1434.0 L1712.5 1425.2 L1720.0 1424.0 L1725.0 1429.0 L1731.2 1431.5 L1737.5 1425.2 L1743.8 1421.5 L1750.0 1422.8 L1760.0 1427.8 L1770.0 1430.2 L1777.5 1427.8 L1783.8 1427.8 L1790.0 1439.0 L1796.2 1449.0 L1803.8 1454.0 L1808.8 1451.5 L1813.8 1436.5 L1818.8 1424.0 L1823.8 1424.0 L1828.8 1441.5 L1833.8 1459.0 L1840.0 1462.8 L1845.0 1465.2 L1850.0 1461.5 L1857.5 1449.0 L1865.0 1440.2 L1872.5 1436.0 L1877.5 1436.5 L1885.0 1444.0 L1892.5 1456.5 L1898.8 1466.5 L1903.8 1466.5 L1912.5 1459.0 L1921.2 1454.0 L1926.2 1452.8 L1932.5 1459.0 L1937.5 1465.2 L1942.5 1465.2 L1950.0 1461.5 L1957.5 1460.2 L1967.5 1462.8 L1977.5 1467.8 L1985.0 1472.8 L1990.0 1476.5 L1995.0 1475.2 L2000.0 1467.8 L2006.2 1465.2 L2012.5 1469.0 L2020.0 1474.0 L2030.0 1476.5 L2037.5 1476.5 L2045.0 1474.0 L2051.2 1469.0 L2057.5 1469.0 L2063.8 1475.2 L2070.0 1478.5 L2075.0 1476.5 L2081.2 1470.2 L2087.5 1467.8 L2095.0 1468.5 L2105.0 1471.5 L2115.0 1473.5 L2125.0 1473.5 L2132.5 1474.0 L2140.0 1477.8 L2147.5 1480.2 L2155.0 1476.0 L2161.2 1474.5 L2167.5 1479.0 L2175.0 1483.5 L2182.5 1481.0 L2192.5 1477.8 L2202.5 1476.5 L2212.5 1477.8 L2220.0 1480.2 L2227.5 1481.0" stroke="#4dac10"/>
</g>
<text transform="translate(234.0 140.5) scale(0.95 1)" font-family="'Liberation Serif', serif" font-size="69" text-anchor="end" fill="#111" >2.5</text>
<text transform="translate(234.0 286.0) scale(0.95 1)" font-family="'Liberation Serif', serif" font-size="69" text-anchor="end" fill="#111" >2.25</text>
<text transform="translate(234.0 432.0) scale(0.95 1)" font-family="'Liberation Serif', serif" font-size="69" text-anchor="end" fill="#111" >2</text>
<text transform="translate(234.0 578.0) scale(0.95 1)" font-family="'Liberation Serif', serif" font-size="69" text-anchor="end" fill="#111" >1.75</text>
<text transform="translate(234.0 721.5) scale(0.95 1)" font-family="'Liberation Serif', serif" font-size="69" text-anchor="end" fill="#111" >1.5</text>
<text transform="translate(234.0 868.0) scale(0.95 1)" font-family="'Liberation Serif', serif" font-size="69" text-anchor="end" fill="#111" >1.25</text>
<text transform="translate(234.0 1016.0) scale(0.95 1)" font-family="'Liberation Serif', serif" font-size="69" text-anchor="end" fill="#111" >1</text>
<text transform="translate(234.0 1165.0) scale(0.95 1)" font-family="'Liberation Serif', serif" font-size="69" text-anchor="end" fill="#111" >0.75</text>
<text transform="translate(234.0 1314.0) scale(0.95 1)" font-family="'Liberation Serif', serif" font-size="69" text-anchor="end" fill="#111" >0.5</text>
<text transform="translate(234.0 1463.0) scale(0.95 1)" font-family="'Liberation Serif', serif" font-size="69" text-anchor="end" fill="#111" >0.25</text>
<text transform="translate(243.0 1618.0) scale(0.95 1)" font-family="'Liberation Serif', serif" font-size="69" text-anchor="end" fill="#111" >0</text>
<text transform="translate(264.5 1678.0) scale(0.93 1)" font-family="'Liberation Serif', serif" font-size="69" text-anchor="middle" fill="#111" >0</text>
<text transform="translate(919.0 1678.0) scale(0.93 1)" font-family="'Liberation Serif', serif" font-size="69" text-anchor="middle" fill="#111" >50</text>
<text transform="translate(1574.0 1678.0) scale(0.93 1)" font-family="'Liberation Serif', serif" font-size="69" text-anchor="middle" fill="#111" >100</text>
<text transform="translate(2227.5 1678.0) scale(0.93 1)" font-family="'Liberation Serif', serif" font-size="69" text-anchor="middle" fill="#111" >150</text>
<text transform="translate(263.5 97.0) scale(1.0 1)" font-family="'Liberation Serif', serif" font-size="84" text-anchor="start" fill="#111" >×</text>
<text transform="translate(322.0 88.0) scale(1.0 1)" font-family="'Liberation Serif', serif" font-size="66" text-anchor="start" fill="#111" >10</text>
<text transform="translate(389.5 65.5) scale(1.0 1)" font-family="'DejaVu Sans', 'Liberation Sans', sans-serif" font-size="45" text-anchor="start" fill="#111" letter-spacing="-3">−6</text>
<text transform="translate(1248.7 1750.7) scale(0.99 1)" font-family="'Liberation Serif', serif" font-size="90" text-anchor="middle" fill="#111" >Frequency (Hz)</text>
<text transform="translate(96.7 843.6) rotate(-90) scale(0.975 1)" font-family="'Liberation Serif', serif" font-size="91" text-anchor="middle" fill="#111" >Amplitude (m)</text>
<rect x="1705.5" y="211.5" width="449" height="385" fill="#fff" stroke="#262626" stroke-width="3.8"/>
<rect x="1731" y="253.5" width="102" height="11" fill="#ff0000"/>
<text x="1861" y="279.5" font-size="52" font-style="italic" fill="#111" font-family="'DejaVu Serif', 'Liberation Serif', serif">ω</text>
<text x="1924" y="278.5" font-size="54" fill="#111" font-family="'DejaVu Sans', sans-serif">=</text>
<text x="1985" y="279.5" font-size="54" fill="#111" font-family="'DejaVu Serif', 'Liberation Serif', serif" textLength="106.5" lengthAdjust="spacingAndGlyphs">220</text>
<text x="2090" y="279.5" font-size="51" font-style="italic" fill="#111" font-family="'DejaVu Serif', 'Liberation Serif', serif">π</text>
<rect x="1731" y="331.5" width="102" height="11" fill="#1c6dc8"/>
<text x="1861" y="357.5" font-size="52" font-style="italic" fill="#111" font-family="'DejaVu Serif', 'Liberation Serif', serif">ω</text>
<text x="1924" y="356.5" font-size="54" fill="#111" font-family="'DejaVu Sans', sans-serif">=</text>
<text x="1985" y="357.5" font-size="54" fill="#111" font-family="'DejaVu Serif', 'Liberation Serif', serif" textLength="106.5" lengthAdjust="spacingAndGlyphs">160</text>
<text x="2090" y="357.5" font-size="51" font-style="italic" fill="#111" font-family="'DejaVu Serif', 'Liberation Serif', serif">π</text>
<rect x="1731" y="405.5" width="102" height="11" fill="#ff00ff"/>
<text x="1861" y="431.5" font-size="52" font-style="italic" fill="#111" font-family="'DejaVu Serif', 'Liberation Serif', serif">ω</text>
<text x="1924" y="430.5" font-size="54" fill="#111" font-family="'DejaVu Sans', sans-serif">=</text>
<text x="1985" y="431.5" font-size="54" fill="#111" font-family="'DejaVu Serif', 'Liberation Serif', serif" textLength="106.5" lengthAdjust="spacingAndGlyphs">120</text>
<text x="2090" y="431.5" font-size="51" font-style="italic" fill="#111" font-family="'DejaVu Serif', 'Liberation Serif', serif">π</text>
<rect x="1731" y="476.5" width="102" height="11" fill="#ffb800"/>
<text x="1861" y="502.5" font-size="52" font-style="italic" fill="#111" font-family="'DejaVu Serif', 'Liberation Serif', serif">ω</text>
<text x="1924" y="501.5" font-size="54" fill="#111" font-family="'DejaVu Sans', sans-serif">=</text>
<text x="1985" y="502.5" font-size="54" fill="#111" font-family="'DejaVu Serif', 'Liberation Serif', serif" textLength="71.5" lengthAdjust="spacingAndGlyphs">80</text>
<text x="2055" y="502.5" font-size="51" font-style="italic" fill="#111" font-family="'DejaVu Serif', 'Liberation Serif', serif">π</text>
<rect x="1731" y="552.5" width="102" height="11" fill="#33a633"/>
<text x="1861" y="578.5" font-size="52" font-style="italic" fill="#111" font-family="'DejaVu Serif', 'Liberation Serif', serif">ω</text>
<text x="1924" y="577.5" font-size="54" fill="#111" font-family="'DejaVu Sans', sans-serif">=</text>
<text x="1985" y="578.5" font-size="54" fill="#111" font-family="'DejaVu Serif', 'Liberation Serif', serif" textLength="71.5" lengthAdjust="spacingAndGlyphs">40</text>
<text x="2055" y="578.5" font-size="51" font-style="italic" fill="#111" font-family="'DejaVu Serif', 'Liberation Serif', serif">π</text>
</g>
</svg>
</body></html>
